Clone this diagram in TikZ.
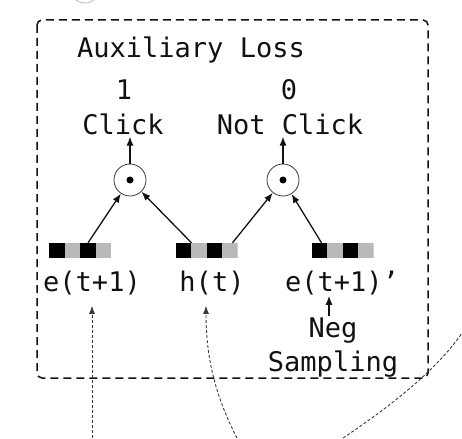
\documentclass[tikz,border=0pt]{standalone}
\usepackage{fontspec}
\setmonofont{DejaVu Sans Mono}
\usepackage{tikz}
\usetikzlibrary{arrows.meta,positioning,calc}
\definecolor{auxgray}{HTML}{B9B9B9}
\definecolor{auxline}{HTML}{3A3A3A}
\definecolor{auxdark}{HTML}{111111}
\tikzset{
  lbl/.style={font=\ttfamily\fontsize{27}{34}\selectfont,inner sep=1pt,anchor=base,text=auxdark},
  vec/.style={minimum width=62pt,minimum height=15pt,inner sep=0pt,fill=white,path picture={
    \foreach \i/\c in {0/black,1/auxgray,2/black,3/auxgray}
      \fill[\c] ([xshift=\i*15.5pt]path picture bounding box.south west) rectangle +(15.5pt,15pt);}},
  prod/.style={circle,draw=auxline,line width=0.8pt,minimum size=32pt,inner sep=0pt,path picture={
    \fill (path picture bounding box.center) circle (3.5pt);}},
  ar/.style={-{Latex[length=9pt,width=7pt]},line width=1.3pt,draw=auxdark},
  frame/.style={draw=auxdark,line width=1.5pt,dash pattern=on 8pt off 5pt,rounded corners=5pt},
  flow/.style={-{Latex[length=8pt,width=6pt]},line width=0.9pt,dash pattern=on 3pt off 2pt,draw=auxline},
}
\begin{document}
\begin{tikzpicture}[x=1pt,y=-1pt]
  \useasboundingbox (0,0) rectangle (462,438);
  \draw[auxgray,line width=0.8pt] (85,-12) circle (15pt);
  \draw[frame] (37,20) rectangle (428,378);
  \node[lbl] (title) at (191,58) {Auxiliary Loss};
  \node[lbl] (one) at (124,100) {1};
  \node[lbl] (zero) at (289,100) {0};
  \node[lbl] (click) at (123,135) {Click};
  \node[lbl] (noclick) at (290,135) {Not Click};
  \node[prod] (c1) at (130,180) {};
  \node[prod] (c2) at (283,180) {};
  \node[vec] (ve) at (80,250.5) {};
  \node[vec] (vh) at (206.5,250.5) {};
  \node[vec] (vn) at (342.5,250.5) {};
  \node[lbl] (elab) at (92,291) {e(t+1)};
  \node[lbl] (hlab) at (212,291) {h(t)};
  \node[lbl] (nlab) at (342,291) {e(t+1)’};
  \node[lbl] (neg) at (333,337) {Neg};
  \node[lbl] (samp) at (333,371) {Sampling};
  \draw[ar] (c1.north) -- (c1.north |- click.south);
  \draw[ar] (c2.north) -- (c2.north |- noclick.south);
  \draw[ar] ([xshift=8pt]ve.north) -- (c1);
  \draw[ar] ([xshift=-15pt]vh.north) -- (c1);
  \draw[ar] ([xshift=26pt]vh.north) -- (c2);
  \draw[ar] ([xshift=-21pt]vn.north) -- (c2);
  \draw[ar] ([xshift=-4pt]neg.north) -- ([xshift=-4pt]neg.north |- nlab.south);
  \coordinate (b1) at (92,438);
  \coordinate (b2) at (237,438);
  \coordinate (b3) at (343,438);
  \coordinate (b4) at (462,333);
  \draw[flow] (b1) -- ($(elab.south)+(0,10)$);
  \draw[flow] (b2) .. controls (212,390) and (206,350) .. ($(hlab.south)+(-6,10)$);
  \draw[flow,-] (b3) .. controls (400,400) and (440,365) .. (b4);
\end{tikzpicture}
\end{document}
